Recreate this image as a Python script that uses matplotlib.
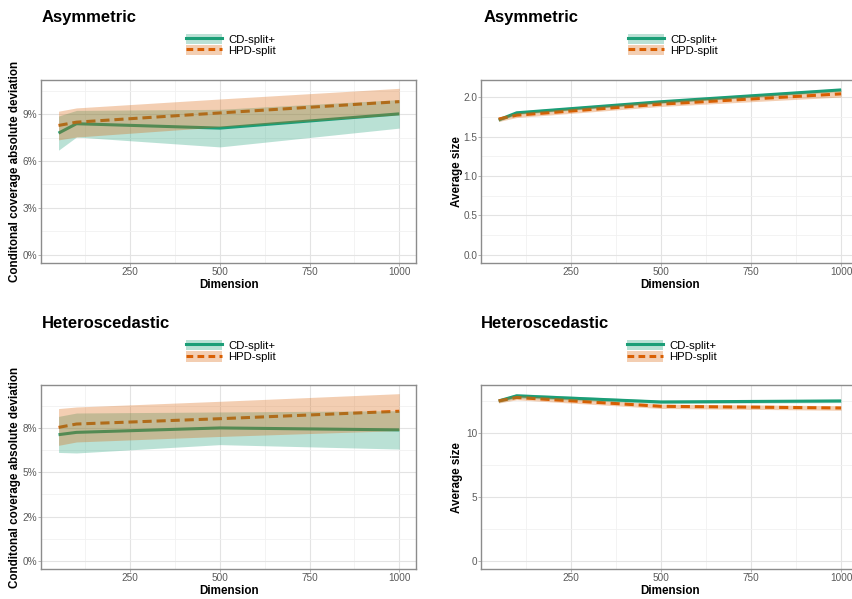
import matplotlib
matplotlib.use("Agg")
import matplotlib.pyplot as plt
from matplotlib.patches import Patch
from matplotlib.lines import Line2D
from matplotlib.ticker import FuncFormatter, FixedLocator

plt.rcParams['font.family'] = ['Liberation Sans', 'DejaVu Sans']

# ---------------- data ----------------
dims = [50, 100, 500, 1000]
methods = ["CD-split+", "HPD-split"]

# Asymmetric - conditional coverage absolute deviation
cd_asym_cov = [0.0778, 0.0838, 0.0810, 0.0901]
cd_asym_cov_lo = [0.0669, 0.0753, 0.0690, 0.0810]
cd_asym_cov_hi = [0.0887, 0.0923, 0.0930, 0.0992]
hpd_asym_cov = [0.0827, 0.0848, 0.0907, 0.0979]
hpd_asym_cov_lo = [0.0735, 0.0753, 0.0818, 0.0895]
hpd_asym_cov_hi = [0.0918, 0.0939, 0.0996, 0.1064]

# Asymmetric - average size
cd_asym_size = [1.71, 1.80, 1.94, 2.09]
cd_asym_size_lo = [1.69, 1.78, 1.92, 2.07]
cd_asym_size_hi = [1.73, 1.82, 1.96, 2.11]
hpd_asym_size = [1.72, 1.77, 1.91, 2.04]
hpd_asym_size_lo = [1.69, 1.74, 1.88, 2.00]
hpd_asym_size_hi = [1.75, 1.80, 1.95, 2.08]

# Heteroscedastic - conditional coverage absolute deviation
cd_het_cov = [0.0711, 0.0724, 0.0749, 0.0738]
cd_het_cov_lo = [0.0611, 0.0608, 0.0655, 0.0630]
cd_het_cov_hi = [0.0814, 0.0833, 0.0839, 0.0846]
hpd_het_cov = [0.0752, 0.0771, 0.0801, 0.0843]
hpd_het_cov_lo = [0.0651, 0.0670, 0.0701, 0.0734]
hpd_het_cov_hi = [0.0858, 0.0867, 0.0899, 0.0942]

# Heteroscedastic - average size
cd_het_size = [12.53, 12.93, 12.45, 12.53]
cd_het_size_lo = [12.40, 12.76, 12.32, 12.40]
cd_het_size_hi = [12.66, 13.10, 12.58, 12.66]
hpd_het_size = [12.53, 12.80, 12.11, 11.98]
hpd_het_size_lo = [12.37, 12.62, 11.94, 11.80]
hpd_het_size_hi = [12.69, 12.98, 12.28, 12.16]

titles = ["Asymmetric", "Asymmetric", "Heteroscedastic", "Heteroscedastic"]
ylabels = ["Conditonal coverage absolute deviation", "Average size",
           "Conditonal coverage absolute deviation", "Average size"]
xlabel = "Dimension"
x_ticks = [250, 500, 750, 1000]
y_ticks = [[0, 0.03, 0.06, 0.09], [0.0, 0.5, 1.0, 1.5, 2.0],
           [0, 0.025, 0.05, 0.075], [0, 5, 10]]

# ---------------- style ----------------
GREEN = "#1B9E77"
ORANGE = "#D95F02"
W, H = 853, 599
fig = plt.figure(figsize=(W / 100, H / 100), dpi=100)


def fx(px):
    return px / W


def fy(py):
    return 1 - py / H


def make_axes(x0, y0, x1, y1):
    return fig.add_axes([fx(x0), fy(y1), fx(x1) - fx(x0), (y1 - y0) / H])


panels = [
    dict(box=(41.5, 80, 416.3, 263.3), title_xy=(42, 21.7), ylab_x=15, xlab_y=284.5,
         leg=(231, 44.7), series=((cd_asym_cov, cd_asym_cov_lo, cd_asym_cov_hi),
                                  (hpd_asym_cov, hpd_asym_cov_lo, hpd_asym_cov_hi)), pct=True),
    dict(box=(481.5, 80, 858.2, 263.3), title_xy=(484, 21.7), ylab_x=457, xlab_y=284.5,
         leg=(673, 44.7), series=((cd_asym_size, cd_asym_size_lo, cd_asym_size_hi),
                                  (hpd_asym_size, hpd_asym_size_lo, hpd_asym_size_hi)), pct=False),
    dict(box=(41.5, 385.3, 416.3, 569.3), title_xy=(42, 328.3), ylab_x=15, xlab_y=590.5,
         leg=(231, 351), series=((cd_het_cov, cd_het_cov_lo, cd_het_cov_hi),
                                 (hpd_het_cov, hpd_het_cov_lo, hpd_het_cov_hi)), pct=True),
    dict(box=(481.5, 385.3, 858.2, 569.3), title_xy=(481, 328.3), ylab_x=457, xlab_y=590.5,
         leg=(672, 351), series=((cd_het_size, cd_het_size_lo, cd_het_size_hi),
                                 (hpd_het_size, hpd_het_size_lo, hpd_het_size_hi)), pct=False),
]

pct_fmt = FuncFormatter(lambda v, p: f"{round(v * 100):.0f}%")

for i, pdef in enumerate(panels):
    x0, y0, x1, y1 = pdef["box"]
    ax = make_axes(x0, y0, x1, y1)
    (cd, cdl, cdh), (hp, hpl, hph) = pdef["series"]

    # lines first, ribbons on top (as in the original)
    ax.plot(dims, cd, color=GREEN, lw=2.2, solid_capstyle="butt", zorder=2)
    ax.plot(dims, hp, color=ORANGE, lw=2.2, ls=(0, (3, 1.6)), dash_capstyle="butt", zorder=2)
    ax.fill_between(dims, cdl, cdh, color=GREEN, alpha=0.3, lw=0, zorder=3)
    ax.fill_between(dims, hpl, hph, color=ORANGE, alpha=0.3, lw=0, zorder=3)

    # limits with ggplot-like 5% expansion
    ax.set_xlim(2.5, 1047.5)
    ymax = max(max(cdh), max(hph))
    ax.set_ylim(-0.05 * ymax, ymax * 1.05)

    yt = y_ticks[i]
    step = yt[1] - yt[0]
    ax.xaxis.set_major_locator(FixedLocator(x_ticks))
    ax.xaxis.set_minor_locator(FixedLocator([125, 375, 625, 875]))
    ax.yaxis.set_major_locator(FixedLocator(yt))
    ax.yaxis.set_minor_locator(FixedLocator([t + step / 2 for t in yt]))
    if pdef["pct"]:
        ax.yaxis.set_major_formatter(pct_fmt)

    ax.grid(which="major", color="#E3E3E3", lw=0.8, zorder=0)
    ax.grid(which="minor", color="#F1F1F1", lw=0.6, zorder=0)
    ax.set_axisbelow(True)
    for s in ax.spines.values():
        s.set_color("#8C8C8C")
        s.set_linewidth(1.0)
    ax.tick_params(which="major", length=2.0, width=0.7, color="#B3B3B3",
                   labelsize=7.2, labelcolor="#5A5A5A", pad=1.0)
    ax.tick_params(which="minor", length=0)

    # texts
    tx, ty = pdef["title_xy"]
    fig.text(fx(tx), fy(ty), titles[i], fontsize=12, fontweight="bold",
             ha="left", va="baseline", color="black")
    fig.text(fx((x0 + x1) / 2), fy(pdef["xlab_y"]),
             xlabel, fontsize=8.4, fontweight="bold", ha="center", va="center")
    fig.text(fx(pdef["ylab_x"]), fy((y0 + y1) / 2), ylabels[i], fontsize=8.4,
             fontweight="bold", rotation=90, ha="center", va="center")

    handles = [
        (Patch(facecolor=GREEN, alpha=0.3, lw=0),
         Line2D([], [], color=GREEN, lw=2.2)),
        (Patch(facecolor=ORANGE, alpha=0.3, lw=0),
         Line2D([], [], color=ORANGE, lw=2.2, ls=(0, (2.2, 1.4)))),
    ]
    lx, ly = pdef["leg"]
    fig.legend(handles, methods, loc="center", bbox_to_anchor=(fx(lx), fy(ly)),
               bbox_transform=fig.transFigure, frameon=False, fontsize=8.2,
               handlelength=3.2, handleheight=1.05, labelspacing=0.0,
               handletextpad=0.55, borderpad=0, borderaxespad=0)

fig.savefig("out.png", dpi=100)
